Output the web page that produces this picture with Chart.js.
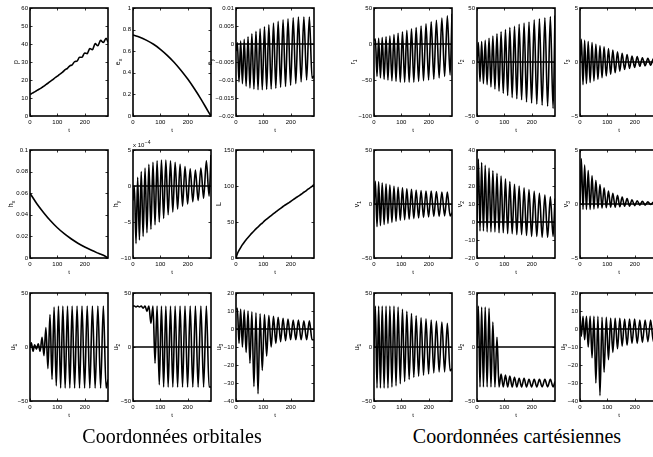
<!DOCTYPE html>
<html><head><meta charset="utf-8">
<script src="https://cdn.jsdelivr.net/npm/chart.js@4.4.1/dist/chart.umd.min.js"></script>
<style>
html,body{margin:0;padding:0;background:#fff;overflow:hidden;}
#wrap{position:relative;width:653px;height:457px;overflow:hidden;background:#fff;}
#wrap canvas{position:absolute;}
.cap{position:absolute;top:426px;font-family:"Liberation Serif","DejaVu Serif",serif;font-size:20px;line-height:21px;color:#000;white-space:nowrap;transform:translateX(-50%);}
</style></head><body><div id="wrap"></div>
<script>
// ---- data ----
const tExt = [0,5,11,17,23.5,30,37,44,51,58,65.5,73,80.5,88,96,104,112,120,128.5,137,145.5,154,163,172,181,190,199.5,209,218.5,228,238,248,258,268,278,285];
const tSmooth = [0,25,50,75,100,125,150,175,200,225,250,275,285];

const pVals  = [12,12.4,12.9,13.4,14,14.6,15.2,15.9,16.6,17.4,18.2,19.1,19.9,20.8,21.7,22.6,23.6,24.5,25.7,26.5,27.9,28.4,30.2,30.5,32.6,32.6,35,34.6,37.5,36.8,40.2,39,42,40.8,43.2,41];
const exVals = [0.75,0.73,0.70,0.664,0.618,0.562,0.498,0.424,0.342,0.25,0.15,0.041,0];
const eyVals = [-0.002,0.0003,-0.0105,0.0008,-0.011,0.0013,-0.0117,0.002,-0.0122,0.0028,-0.0125,0.0035,-0.0127,0.0042,-0.0127,0.0048,-0.0126,0.0053,-0.0125,0.0058,-0.0123,0.0063,-0.012,0.0067,-0.0118,0.007,-0.0115,0.0073,-0.011,0.0075,-0.0105,0.0075,-0.01,0.0075,-0.0095,-0.0088];
const hxVals = [0.06,0.0503,0.042,0.0345,0.028,0.0225,0.0178,0.0137,0.0102,0.0071,0.0043,0.0016,0];
const hyVals = [-2,0,-8,1.2,-7.5,2,-7,2.5,-6.5,3,-6,3.3,-5.4,3.5,-5,3.6,-4.5,3.6,-4,3.5,-3.6,3.3,-3.2,3,-2.8,2.7,-2.5,2.4,-2.2,2.2,-2,2.5,-1.7,3.5,-1.4,4.3]; // x 1e-4
const LVals  = [0,6,10.5,14.5,18.5,22,25.5,28.5,31.5,34.5,37.5,40.5,43,46,48.5,51.5,54,56.5,59,61.5,64,66.5,69,71.5,74,76,78.5,81,83.5,86,88.5,91.3,94,96.8,99.6,102];
const u1oVals = [0,4,-4,2,-2,3,-4,9,-8,18,-20,30,-30,37,-36,38,-38,38,-38,38,-38,38,-38,38,-38,38,-38,38,-38,38,-38,38,-38,38,-38,-30];
const u2oVals = [38,38,37,38,37,38,36,38,33,38,22,38,-15,38,-35,38,-37,38,-37,38,-37,38,-37,38,-37,38,-37,38,-37,38,-37,38,-37,38,-37,-37];
const u3oVals = [11,11.5,-8,11,-10,10.5,-13,10,-19,9.5,-32,9,-36,8.5,-23,8,-15,7.5,-10,7,-8,6.5,-7,6,-6.5,5.5,-6,5,-6,5,-6,4.5,-6,4.5,-6,-6];
const r1Vals = [5,7,-45,8,-47,9,-49,10,-50,11,-51,13,-52,15,-53,17,-53,19,-53,21,-53,23,-52,25,-51,28,-50,31,-49,33,-47,36,-45,39,-43,42];
const r2Vals = [0,18,-18,19,-20,20,-21,22,-23,24,-25,26,-27,28,-29,30,-31,32,-33,33,-34,35,-35,36,-37,37,-38,39,-39,40,-40,41,-41,42,-43,43];
const r3Vals = [0,2.1,-2.1,2.0,-2.0,1.9,-1.9,1.8,-1.75,1.65,-1.6,1.5,-1.45,1.4,-1.3,1.25,-1.15,1.1,-1.0,0.95,-0.85,0.8,-0.7,0.7,-0.6,0.55,-0.5,0.5,-0.4,0.4,-0.35,0.35,-0.3,0.3,-0.25,0.2];
const v1Vals = [0,21,-21,20.5,-20,19.5,-19,18.5,-18,17.5,-17,16.5,-16,15.5,-15,15,-14.5,14,-14,13.5,-13.5,13,-13,12.5,-12.5,12,-12,12,-11.5,11.5,-11.5,11,-11,11,-11,-8];
const v2Vals = [0,35,-5,33,-5,31.5,-5.5,30,-5.5,28.5,-5.5,27,-6,25.5,-6,24,-6.5,22.5,-6.5,21,-7,20,-7,19,-7.5,18,-8,17,-8,16,-8.5,15,-8.5,14,-8,13];
const v3Vals = [0,4.2,-0.5,3.6,-0.5,3.1,-0.5,2.6,-0.45,2.2,-0.4,1.8,-0.4,1.5,-0.35,1.2,-0.3,1.0,-0.3,0.8,-0.25,0.65,-0.2,0.5,-0.2,0.4,-0.15,0.3,-0.1,0.25,-0.1,0.2,-0.05,0.15,-0.05,0.05];
const u1cVals = [0,38,-38,38,-38,38,-38,38,-38,38,-37,38,-36,37,-34,35,-32,33,-30,31,-28,29,-27,27,-26,26,-25,25,-24,24,-23,23,-23,22,-22,-20];
const u2cVals = [0,38,-37,37,-37,37,-37,36,-37,23,-37,9,-37,-25,-37,-26,-37,-27,-37,-28,-37,-29,-37,-29,-37,-30,-37,-30,-37,-30,-37,-30,-37,-30,-37,-32];
const u3cVals = [7,-4,7,-6,7,-10,7,-16,7,-30,7,-37,6.5,-24,6.5,-17,6,-13,6,-11,6,-9.5,5.5,-9,5.5,-8,5.5,-8,5,-7.5,5,-7,5,-7,5,-6];

// tick labels
const ticksT   = [0,100,200];
const ticksP   = [0,10,20,30,40,50,60];
const ticksEx  = [0,0.2,0.4,0.6,0.8,1];
const ticksEy  = [-0.02,-0.015,-0.01,-0.005,0,0.005,0.01];
const ticksHx  = [0,0.02,0.04,0.06,0.08,0.1];
const ticksHy  = [-10,-5,0,5];
const ticksL   = [0,50,100,150];
const ticks50  = [-50,0,50];
const ticksU3  = [-40,-30,-20,-10,0,10,20];
const ticksR1  = [-100,-50,0,50];
const ticks5   = [-5,0,5];
const ticksV2  = [-20,-10,0,10,20,30,40];
const captions = ["Coordonnées orbitales","Coordonnées cartésiennes"];

// ---- layout ----
const colX = [30,133,236, 374,477,580];
const rowY = [8,150,293];
const BW = 78, BH = 108, PADL = 28, PADT = 12, PADR = 8, XH = 20;
const TICKFONT = '6px "Liberation Sans", Arial, sans-serif';

const panels = [
  {c:0,r:0,t:tExt,v:pVals,min:0,max:60,ticks:ticksP,title:['p',''],zero:false},
  {c:1,r:0,t:tSmooth,v:exVals,min:0,max:1,ticks:ticksEx,title:['e','x'],zero:false},
  {c:2,r:0,t:tExt,v:eyVals,min:-0.02,max:0.01,ticks:ticksEy,title:['e','y'],zero:true},
  {c:0,r:1,t:tSmooth,v:hxVals,min:0,max:0.1,ticks:ticksHx,title:['h','x'],zero:false},
  {c:1,r:1,t:tExt,v:hyVals,min:-10,max:5,ticks:ticksHy,title:['h','y'],zero:true,exp:true},
  {c:2,r:1,t:tExt,v:LVals,min:0,max:150,ticks:ticksL,title:['L',''],zero:false},
  {c:0,r:2,t:tExt,v:u1oVals,min:-50,max:50,ticks:ticks50,title:['u','1'],zero:true},
  {c:1,r:2,t:tExt,v:u2oVals,min:-50,max:50,ticks:ticks50,title:['u','2'],zero:true},
  {c:2,r:2,t:tExt,v:u3oVals,min:-40,max:20,ticks:ticksU3,title:['u','3'],zero:true},
  {c:3,r:0,t:tExt,v:r1Vals,min:-100,max:50,ticks:ticksR1,title:['r','1'],zero:true},
  {c:4,r:0,t:tExt,v:r2Vals,min:-50,max:50,ticks:ticks50,title:['r','2'],zero:true},
  {c:5,r:0,t:tExt,v:r3Vals,min:-5,max:5,ticks:ticks5,title:['r','3'],zero:true},
  {c:3,r:1,t:tExt,v:v1Vals,min:-50,max:50,ticks:ticks50,title:['v','1'],zero:true},
  {c:4,r:1,t:tExt,v:v2Vals,min:-20,max:40,ticks:ticksV2,title:['v','2'],zero:true},
  {c:5,r:1,t:tExt,v:v3Vals,min:-5,max:5,ticks:ticks5,title:['v','3'],zero:true},
  {c:3,r:2,t:tExt,v:u1cVals,min:-50,max:50,ticks:ticks50,title:['u','1'],zero:true},
  {c:4,r:2,t:tExt,v:u2cVals,min:-50,max:50,ticks:ticks50,title:['u','2'],zero:true},
  {c:5,r:2,t:tExt,v:u3cVals,min:-40,max:20,ticks:ticksU3,title:['u','3'],zero:true}
];

const fmt = v => String(v).replace('-', '\u2212');
const wrap = document.getElementById('wrap');

function framePlugin(cfg){
  return {
    id:'frame',
    afterDraw(chart){
      const ctx = chart.ctx, a = chart.chartArea, xs = chart.scales.x, ys = chart.scales.y;
      ctx.save();
      ctx.strokeStyle = '#000';
      ctx.lineWidth = 0.8;
      ctx.beginPath();
      for (const v of ticksT){
        const px = Math.round(xs.getPixelForValue(v)) + 0.5;
        ctx.moveTo(px, a.bottom); ctx.lineTo(px, a.bottom - 2.5);
        ctx.moveTo(px, a.top); ctx.lineTo(px, a.top + 2.5);
      }
      for (const v of cfg.ticks){
        const py = Math.round(ys.getPixelForValue(v)) + 0.5;
        ctx.moveTo(a.left, py); ctx.lineTo(a.left + 2.5, py);
        ctx.moveTo(a.right, py); ctx.lineTo(a.right - 2.5, py);
      }
      ctx.stroke();
      ctx.lineWidth = 1.6;
      ctx.strokeRect(a.left, a.top, a.right - a.left, a.bottom - a.top);
      // x title
      ctx.fillStyle = '#000';
      ctx.font = TICKFONT;
      ctx.textAlign = 'center'; ctx.textBaseline = 'middle';
      ctx.fillText('t', (a.left + a.right)/2, a.bottom + 14);
      // y title
      let maxW = 0;
      for (const v of cfg.ticks){ maxW = Math.max(maxW, ctx.measureText(fmt(v)).width); }
      const tx = a.left - 2 - maxW - 5;
      const ty = (a.top + a.bottom)/2;
      ctx.translate(tx, ty);
      ctx.rotate(-Math.PI/2);
      const fMain = '7px "Liberation Sans", Arial, sans-serif';
      const fSub = '5px "Liberation Sans", Arial, sans-serif';
      ctx.font = fMain; const w1 = ctx.measureText(cfg.title[0]).width;
      ctx.font = fSub; const w2 = cfg.title[1] ? ctx.measureText(cfg.title[1]).width : 0;
      const x0 = -(w1 + w2)/2;
      ctx.textAlign = 'left'; ctx.textBaseline = 'alphabetic';
      ctx.font = fMain; ctx.fillText(cfg.title[0], x0, 2);
      if (cfg.title[1]){ ctx.font = fSub; ctx.fillText(cfg.title[1], x0 + w1, 4); }
      ctx.setTransform(1,0,0,1,0,0);
      if (cfg.exp){
        ctx.font = TICKFONT; ctx.textAlign = 'left'; ctx.textBaseline = 'alphabetic';
        ctx.fillText('x 10', a.left, a.top - 3);
        const w = ctx.measureText('x 10').width;
        ctx.font = '5px "Liberation Sans", Arial, sans-serif';
        ctx.fillText('\u22124', a.left + w + 0.5, a.top - 6);
      }
      ctx.restore();
    }
  };
}

function makePanel(cfg){
  const W = PADL + BW + PADR, H = PADT + BH + XH;
  const cv = document.createElement('canvas');
  cv.width = W; cv.height = H;
  cv.style.width = W + 'px'; cv.style.height = H + 'px';
  cv.style.left = (colX[cfg.c] - PADL) + 'px';
  cv.style.top = (rowY[cfg.r] - PADT) + 'px';
  wrap.appendChild(cv);
  const datasets = [{
    data: cfg.t.map((x,i)=>({x:x, y:cfg.v[i]})),
    borderColor:'#000', borderWidth:1.6, pointRadius:0,
    cubicInterpolationMode:'monotone', fill:false
  }];
  if (cfg.zero) datasets.push({
    data:[{x:0,y:0},{x:285,y:0}], borderColor:'#000', borderWidth:1.3, pointRadius:0, fill:false
  });
  new Chart(cv, {
    type:'line',
    data:{datasets},
    options:{
      responsive:false, animation:false, devicePixelRatio:1,
      layout:{padding:{top:PADT,right:PADR,left:0,bottom:0}},
      plugins:{legend:{display:false}, tooltip:{enabled:false}},
      scales:{
        x:{type:'linear', min:0, max:285,
           afterBuildTicks: s => { s.ticks = ticksT.map(v=>({value:v})); },
           afterFit: s => { s.height = XH; },
           grid:{display:false, drawTicks:false}, border:{display:false},
           ticks:{font:{size:6, family:'"Liberation Sans", Arial, sans-serif'}, color:'#000', padding:3, maxRotation:0, autoSkip:false, callback: v => fmt(v)}},
        y:{type:'linear', min:cfg.min, max:cfg.max,
           afterBuildTicks: s => { s.ticks = cfg.ticks.map(v=>({value:v})); },
           afterFit: s => { s.width = PADL; },
           grid:{display:false, drawTicks:false}, border:{display:false},
           ticks:{font:{size:6, family:'"Liberation Sans", Arial, sans-serif'}, color:'#000', padding:2, autoSkip:false, callback: v => fmt(v)}}
      }
    },
    plugins:[framePlugin(cfg)]
  });
}

panels.forEach(makePanel);

const capX = [172, 517];
captions.forEach((txt,i)=>{
  const d = document.createElement('div');
  d.className = 'cap'; d.textContent = txt; d.style.left = capX[i] + 'px';
  wrap.appendChild(d);
});
</script></body></html>
